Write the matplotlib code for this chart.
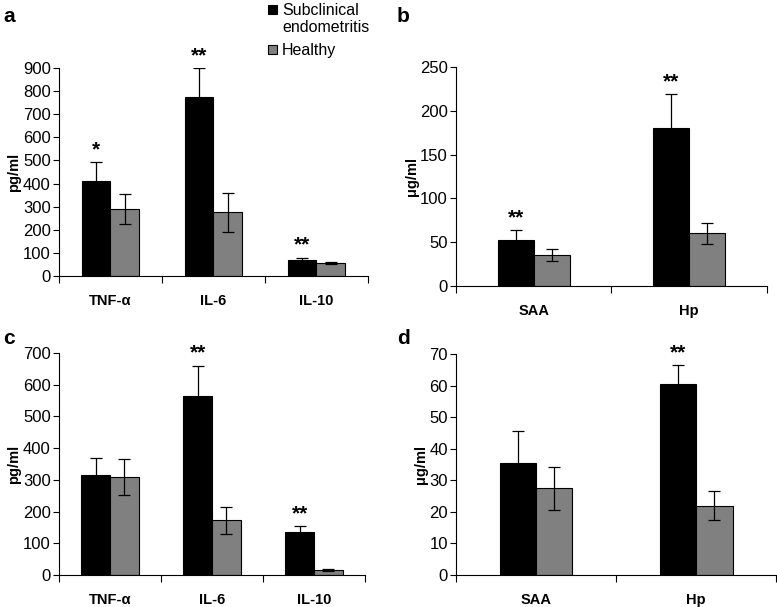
import numpy as np
import matplotlib
matplotlib.use('Agg')
import matplotlib.pyplot as plt
from matplotlib.patches import Rectangle

plt.rcParams['font.family'] = ['Liberation Sans', 'DejaVu Sans']

# data
cyto_cats = ['TNF-α', 'IL-6', 'IL-10']
app_cats = ['SAA', 'Hp']
legend_labels = ['Subclinical\nendometritis', 'Healthy']

a_sick = [410, 773, 70]
a_sick_err = [82, 127, 10]
a_healthy = [290, 275, 55]
a_healthy_err = [65, 84, 5]
a_stars = ['*', '**', '**']

b_sick = [53, 180]
b_sick_err = [11, 39]
b_healthy = [35, 60]
b_healthy_err = [7, 12]
b_stars = ['**', '**']

c_sick = [315, 565, 137]
c_sick_err = [53, 95, 16]
c_healthy = [310, 172, 15]
c_healthy_err = [57, 43, 3]
c_stars = ['', '**', '**']

d_sick = [35.5, 60.5]
d_sick_err = [10.2, 6.0]
d_healthy = [27.5, 22.0]
d_healthy_err = [6.8, 4.7]
d_stars = ['', '**']

SICK_COLOR = 'black'
HEALTHY_COLOR = '#808080'


def draw_panel(ax, cats, sick, sick_err, healthy, healthy_err, stars,
               ymax, ystep, ylabel, width):
    x = np.arange(len(cats))
    ax.bar(x - width / 2, sick, width, color=SICK_COLOR, edgecolor='black',
           linewidth=0.8, zorder=2)
    ax.bar(x + width / 2, healthy, width, color=HEALTHY_COLOR, edgecolor='black',
           linewidth=0.8, zorder=2)
    ax.errorbar(x - width / 2, sick, yerr=sick_err, fmt='none', ecolor='black',
                elinewidth=0.9, capsize=4, capthick=0.9, zorder=3)
    ax.errorbar(x + width / 2, healthy, yerr=healthy_err, fmt='none', ecolor='black',
                elinewidth=0.9, capsize=4, capthick=0.9, zorder=3)
    for xi, s, e, st in zip(x, sick, sick_err, stars):
        if st:
            ax.annotate(st, (xi - width / 2, s + e), xytext=(0, 2),
                        textcoords='offset points', ha='center', va='bottom',
                        fontsize=15, fontweight='bold', annotation_clip=False)

    ax.set_xlim(-0.5, len(cats) - 0.5)
    ax.set_ylim(0, ymax)
    ax.set_yticks(np.arange(0, ymax + ystep / 2, ystep))
    ax.set_xticks(x)
    ax.set_xticklabels(cats, fontweight='bold', fontsize=10.5)
    ax.set_xticks(np.arange(-0.5, len(cats)), minor=True)
    ax.tick_params(axis='x', which='major', length=0, pad=13)
    ax.tick_params(axis='x', which='minor', length=5, width=0.8, direction='out')
    ax.tick_params(axis='y', length=4, width=0.8, pad=2, labelsize=12)
    for sp in ['top', 'right']:
        ax.spines[sp].set_visible(False)
    for sp in ['left', 'bottom']:
        ax.spines[sp].set_linewidth(0.8)
    ax.set_ylabel(ylabel, fontweight='bold', fontsize=10.5, labelpad=1)


fig = plt.figure(figsize=(7.77, 6.07), dpi=100)

ax_a = fig.add_axes([0.0759, 0.5453, 0.3977, 0.3427])
ax_b = fig.add_axes([0.587, 0.5288, 0.400, 0.3608])
ax_c = fig.add_axes([0.0759, 0.0527, 0.3939, 0.3658])
ax_d = fig.add_axes([0.587, 0.0527, 0.412, 0.3641])

draw_panel(ax_a, cyto_cats, a_sick, a_sick_err, a_healthy, a_healthy_err, a_stars,
           900, 100, 'pg/ml', 0.28)
draw_panel(ax_b, app_cats, b_sick, b_sick_err, b_healthy, b_healthy_err, b_stars,
           250, 50, 'μg/ml', 0.23)
draw_panel(ax_c, cyto_cats, c_sick, c_sick_err, c_healthy, c_healthy_err, c_stars,
           700, 100, 'pg/ml', 0.28)
draw_panel(ax_d, app_cats, d_sick, d_sick_err, d_healthy, d_healthy_err, d_stars,
           70, 10, 'μg/ml', 0.227)

for lbl, (fx, fy) in zip('abcd', [(0.004, 0.988), (0.511, 0.988), (0.004, 0.458), (0.511, 0.458)]):
    fig.text(fx, fy, lbl, fontsize=15, fontweight='bold', va='top', ha='left')

# legend drawn by hand so the swatch sits on the first text line
W, H = 777.0, 607.0
for color, label, ytop in zip([SICK_COLOR, HEALTHY_COLOR], legend_labels, [5, 45]):
    fig.patches.append(Rectangle((268 / W, 1 - (ytop + 9) / H), 9 / W, 9 / H,
                                 transform=fig.transFigure, facecolor=color,
                                 edgecolor='black', linewidth=0.8))
    fig.text(282 / W, 1 - (ytop - 2) / H, label, fontsize=11.5, va='top', ha='left',
             linespacing=1.15)

fig.savefig('out.png', dpi=100)
